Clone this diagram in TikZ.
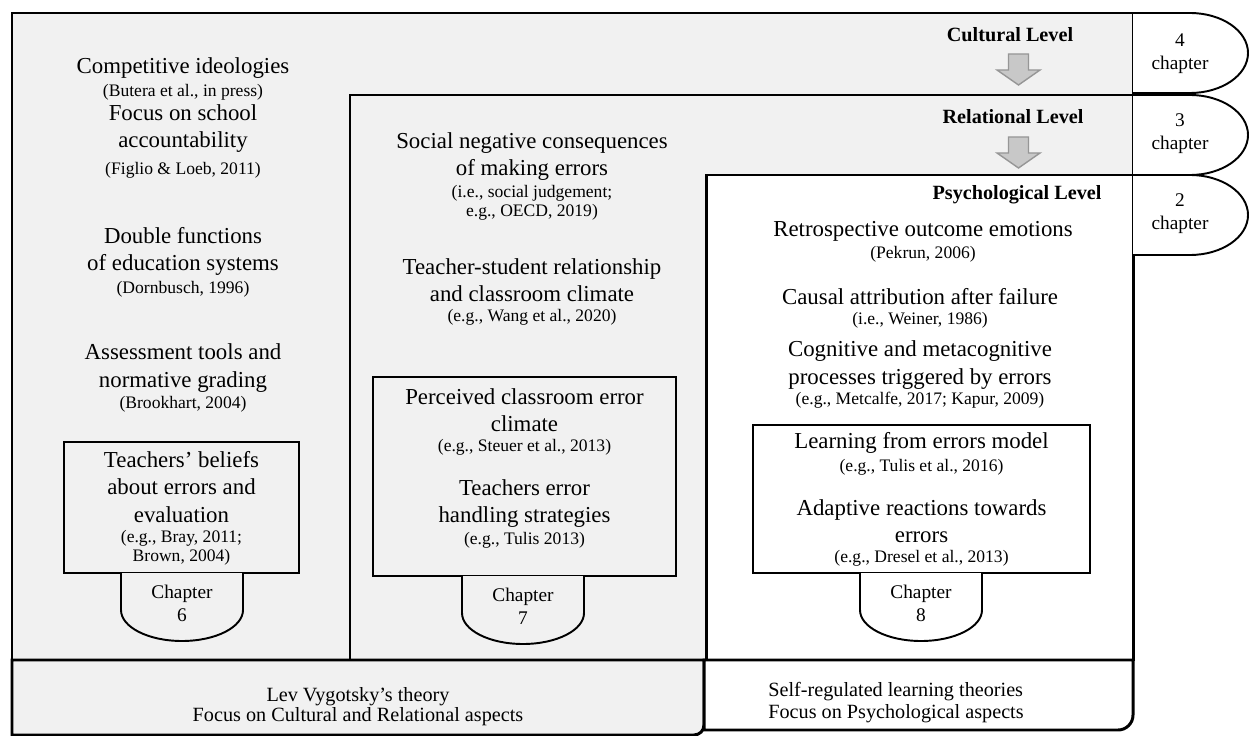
\documentclass[tikz,border=0pt]{standalone}
\usepackage{fontspec}
\setmainfont{Liberation Serif}
\usetikzlibrary{calc}
\definecolor{levelgray}{RGB}{241,241,241}
\definecolor{arrowfill}{RGB}{200,200,200}
\definecolor{arrowline}{RGB}{150,150,150}
\newcommand{\mainsz}{\fontsize{13}{15.5}\selectfont}
\newcommand{\refsz}{\fontsize{10}{11}\selectfont}
\newcommand{\chapsz}{\fontsize{11}{13}\selectfont}
\newcommand{\chaptab}[2]{% chapter tab hanging under a box, top-left corner at (#1)
  \filldraw[fill=#2, line width=1.1pt] (#1) -- ($(#1)+(0,37)$)
    arc[start angle=180, end angle=0, x radius=61, y radius=31] -- ($(#1)+(122,0)$);
}
\newcommand{\sidetab}[1]{% chapter tab on the right edge, top-left corner at (#1)
  \filldraw[fill=white, line width=1.1pt] (#1) -- ($(#1)+(57,0)$)
    arc[start angle=-90, end angle=90, x radius=58, y radius=40] -- ($(#1)+(0,80)$);
}
\newcommand{\levelarrow}[1]{% grey block arrow, top centre at (#1)
  \filldraw[fill=arrowfill, draw=arrowline, line width=0.8pt]
    ($(#1)+(-10,0)$) -- ($(#1)+(10,0)$) -- ($(#1)+(10,16)$) -- ($(#1)+(21.5,16)$)
    -- ($(#1)+(0,31)$) -- ($(#1)+(-21.5,16)$) -- ($(#1)+(-10,16)$) -- cycle;
}
\tikzset{
  levelbox/.style={draw, line width=1.7pt},
  innerbox/.style={draw, line width=1.1pt},
  lbl/.style={font=\mainsz, align=center, inner sep=0pt},
  refnote/.style={font=\refsz, align=center, inner sep=0pt},
  chaplbl/.style={font=\chapsz, align=center, inner sep=0pt},
  levellbl/.style={font=\fontsize{11.5}{13}\selectfont\bfseries, inner sep=0pt},
  bottomlbl/.style={font=\fontsize{11.5}{11.5}\selectfont, inner sep=0pt},
}

\begin{document}
\begin{tikzpicture}[x=0.02cm,y=-0.02cm]
  \useasboundingbox (0,0) rectangle (1250,736);
  % the three levels
  \filldraw[levelbox, fill=levelgray] (12,13) rectangle (1133,660);
  \filldraw[levelbox, fill=levelgray] (350,95) rectangle (1133,660);
  \filldraw[levelbox, fill=white] (706,175) rectangle (1133,660);
  \sidetab{1133,13} \sidetab{1133,95} \sidetab{1133,175}
  \levelarrow{1018.5,54} \levelarrow{1018.5,137}
  % boxes with chapters
  \filldraw[innerbox, fill=levelgray] (64,442) rectangle (299,573);
  \chaptab{121,573}{levelgray}
  \filldraw[innerbox, fill=levelgray] (373,377) rectangle (676,576);
  \chaptab{462,576}{levelgray}
  \filldraw[innerbox, fill=white] (753,425) rectangle (1090,573);
  \chaptab{860,573}{white}
  % theories strip
  \filldraw[levelbox, fill=levelgray] (12,660) -- (704,660) -- (704,725)
    arc[start angle=0, end angle=90, radius=10] -- (12,735) -- cycle;
  \filldraw[levelbox, fill=white] (704,660) -- (1133,660) -- (1133,715)
    arc[start angle=0, end angle=90, radius=15] -- (704,730) -- cycle;

  \node[levellbl] (cultlvl) at (1010,35) {Cultural Level};
  \node[levellbl] (rellvl) at (1013,117) {Relational Level};
  \node[levellbl] (psylvl) at (1017,195) {Psychological Level};
  \node[chaplbl] (tab4) at (1180,54) {4\\chapter};
  \node[chaplbl] (tab3) at (1180,134) {3\\chapter};
  \node[chaplbl] (tab2) at (1180,214) {2\\chapter};

  \node[lbl] (compet) at (183,68) {Competitive ideologies};
  \node[refnote] (butera) at (183,92) {(Butera et al., in press)};
  \node[lbl] (focus) at (183,128.5) {Focus on school\\accountability};
  \node[refnote] (figlio) at (183,170) {(Figlio \& Loeb, 2011)};
  \node[lbl] (double) at (183,251.5) {Double functions\\of education systems};
  \node[refnote] (dornb) at (183,289) {(Dornbusch, 1996)};
  \node[lbl] (assess) at (183,368) {Assessment tools and\\normative grading};
  \node[refnote] (brookh) at (183,404) {(Brookhart, 2004)};
  \node[lbl] (beliefs) at (181.5,487) {Teachers’ beliefs\\about errors and\\evaluation};
  \node[refnote] (bray) at (181.5,548) {(e.g., Bray, 2011;\\Brown, 2004)};
  \node[chaplbl] (ch6) at (182,603.5) {Chapter\\6};

  \node[lbl] (social) at (532,156.5) {Social negative consequences\\of making errors};
  \node[refnote] (oecd) at (532,203) {(i.e., social judgement;\\e.g., OECD, 2019)};
  \node[lbl] (tsrel) at (532,280.5) {Teacher-student relationship\\and classroom climate};
  \node[refnote] (wang) at (532,317) {(e.g., Wang et al., 2020)};
  \node[lbl] (percv) at (524.5,410) {Perceived classroom error\\climate};
  \node[refnote] (steuer) at (524.5,447) {(e.g., Steuer et al., 2013)};
  \node[lbl] (handl) at (524.5,503.5) {Teachers error\\handling strategies};
  \node[refnote] (tulisA) at (524.5,540) {(e.g., Tulis 2013)};
  \node[chaplbl] (ch7) at (523,606) {Chapter\\7};

  \node[lbl] (retro) at (923,231) {Retrospective outcome emotions};
  \node[refnote] (pekrun) at (923,254) {(Pekrun, 2006)};
  \node[lbl] (causal) at (920,297) {Causal attribution after failure};
  \node[refnote] (weiner) at (920,320) {(i.e., Weiner, 1986)};
  \node[lbl] (cognit) at (920,365) {Cognitive and metacognitive\\processes triggered by errors};
  \node[refnote] (metc) at (920,400) {(e.g., Metcalfe, 2017; Kapur, 2009)};
  \node[lbl] (lfe) at (921.5,443) {Learning from errors model};
  \node[refnote] (tulisB) at (921.5,467) {(e.g., Tulis et al., 2016)};
  \node[lbl] (adapt) at (921.5,521.5) {Adaptive reactions towards\\errors};
  \node[refnote] (dresel) at (921.5,558) {(e.g., Dresel et al., 2013)};
  \node[chaplbl] (ch8) at (921,603.5) {Chapter\\8};

  \node[bottomlbl, align=center] (vygot) at (358,707) {Lev Vygotsky’s theory\\Focus on Cultural and Relational aspects};
  \node[bottomlbl, align=left, anchor=west, font=\fontsize{11.5}{13}\selectfont] (srl) at (768,702.5) {Self-regulated learning theories\\Focus on Psychological aspects};
\end{tikzpicture}
\end{document}
